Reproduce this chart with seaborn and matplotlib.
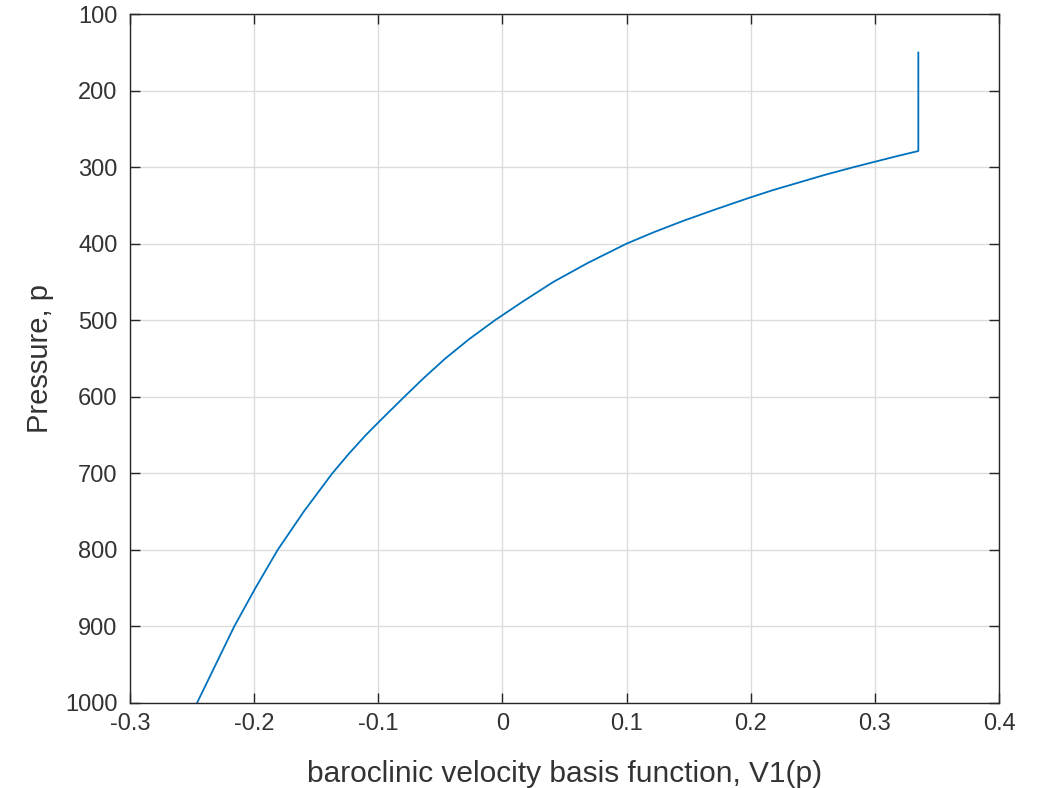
import matplotlib
matplotlib.use("Agg")
import matplotlib.pyplot as plt
import seaborn as sns
import pandas as pd

# Data
pressure = [150, 279, 286, 293, 300, 310, 320, 330, 340, 355, 370, 385, 400,
            425, 450, 475, 500, 525, 550, 575, 600, 632, 650, 675, 700, 750,
            800, 850, 900, 950, 1000]
v1 = [0.335, 0.335, 0.317, 0.300, 0.283, 0.260, 0.239, 0.218, 0.199, 0.172,
      0.146, 0.122, 0.100, 0.069, 0.041, 0.017, -0.006, -0.027, -0.046,
      -0.063, -0.079, -0.099, -0.110, -0.124, -0.137, -0.160, -0.181, -0.199,
      -0.216, -0.231, -0.246]

xticks = [-0.3, -0.2, -0.1, 0, 0.1, 0.2, 0.3, 0.4]
xticklabels = ["-0.3", "-0.2", "-0.1", "0", "0.1", "0.2", "0.3", "0.4"]
yticks = [100, 200, 300, 400, 500, 600, 700, 800, 900, 1000]

sns.set_theme(style="white")
plt.rcParams['font.family'] = ['Liberation Sans', 'DejaVu Sans']

df = pd.DataFrame({"p": pressure, "v": v1})

fig = plt.figure(figsize=(10.4, 7.88), dpi=100)
ax = fig.add_axes([0.125, 0.108, 0.8356, 0.8742])

sns.lineplot(data=df, x="v", y="p", sort=False, estimator=None,
             color="#0072BD", linewidth=1.3, ax=ax)

ax.set_xlim(-0.3, 0.4)
ax.set_ylim(1000, 100)
ax.set_xticks(xticks)
ax.set_xticklabels(xticklabels)
ax.set_yticks(yticks)
ax.grid(True, color="#dcdcdc", linewidth=1.0)
ax.set_axisbelow(True)

for s in ax.spines.values():
    s.set_visible(True)
    s.set_color("#262626")
    s.set_linewidth(1.0)

ax.tick_params(axis="both", which="both", direction="in", length=7, width=1.0,
               color="#262626", labelcolor="#333333", labelsize=17,
               top=True, right=True, bottom=True, left=True)
ax.tick_params(axis="x", pad=7)
ax.tick_params(axis="y", pad=9)

ax.set_xlabel("baroclinic velocity basis function, V1(p)", fontsize=21.5,
              color="#333333", labelpad=18)
ax.set_ylabel("Pressure, p", fontsize=21, color="#333333", labelpad=8)

fig.savefig("out.png", dpi=100, facecolor="white")
